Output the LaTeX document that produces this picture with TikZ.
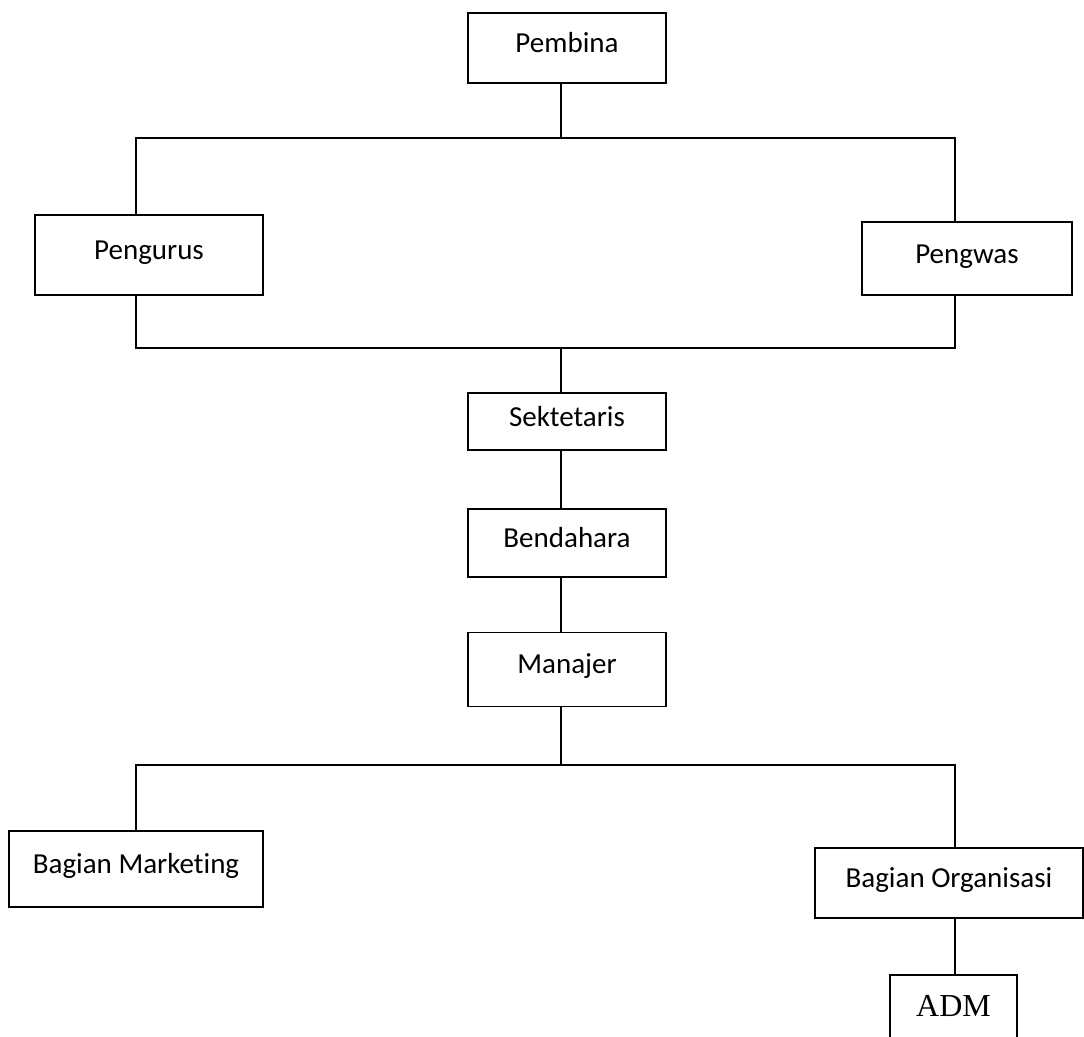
\documentclass[tikz,border=0pt]{standalone}
\usepackage{fontspec}
\setmainfont[Ligatures=NoCommon]{Carlito}
\newfontfamily\admfont{Liberation Serif}
\usetikzlibrary{positioning}

\begin{document}
\begin{tikzpicture}[x=1pt, y=-1pt,
  box/.style={draw, line width=1.7pt, inner sep=0pt, minimum width=198pt, minimum height=62pt, align=center, font=\fontsize{29}{31}\selectfont, text height=20pt, text depth=11pt},
  link/.style={line width=1.7pt},
  node distance=56pt
]
\clip (0,0) rectangle (1084,1036);

\node[box, minimum height=70pt] (pembina) at (567,48) {Pembina};
\node[box, minimum width=228pt, minimum height=80pt] (pengurus) at (149,255) {Pengurus};
\node[box, minimum width=210pt, minimum height=73pt] (pengwas) at (967,258.5) {Pengwas};
\node[box, minimum height=57pt] (sekre) at (567,421.5) {Sektetaris};
\node[box, minimum height=68pt, below=57pt of sekre] (benda) {Bendahara};
\node[box, minimum height=74pt, below=54pt of benda] (manajer) {Manajer};
\node[box, minimum width=254pt, minimum height=76pt] (marketing) at (136,869) {Bagian Marketing};
\node[box, minimum width=268pt, minimum height=70pt] (organisasi) at (949,883) {Bagian Organisasi};
\node[box, minimum width=127pt, minimum height=74pt, font=\admfont\fontsize{32}{34}\selectfont] (adm) at (953.5,1012) {ADM};

% junctions
\coordinate (top) at (561,138);
\coordinate (tl)  at (136,138);
\coordinate (tr)  at (955,138);
\coordinate (mid) at (561,348);
\coordinate (ml)  at (136,348);
\coordinate (mr)  at (955,348);
\coordinate (bot) at (561,765);
\coordinate (bl)  at (136,765);
\coordinate (br)  at (955,765);

\draw[link] (pembina.south -| top) -- (top);
\draw[link] (pengurus.north -| tl) -- (tl) -- (tr) -- (pengwas.north -| tr);
\draw[link] (pengurus.south -| ml) -- (ml) -- (mr) -- (pengwas.south -| mr);
\draw[link] (mid) -- (sekre.north -| mid);
\draw[link] (sekre.south -| mid) -- (benda.north -| mid);
\draw[link] (benda.south -| mid) -- (manajer.north -| mid);
\draw[link] (manajer.south -| bot) -- (bot);
\draw[link] (marketing.north -| bl) -- (bl) -- (br) -- (organisasi.north -| br);
\draw[link] (organisasi.south -| br) -- (adm.north -| br);
\end{tikzpicture}
\end{document}
